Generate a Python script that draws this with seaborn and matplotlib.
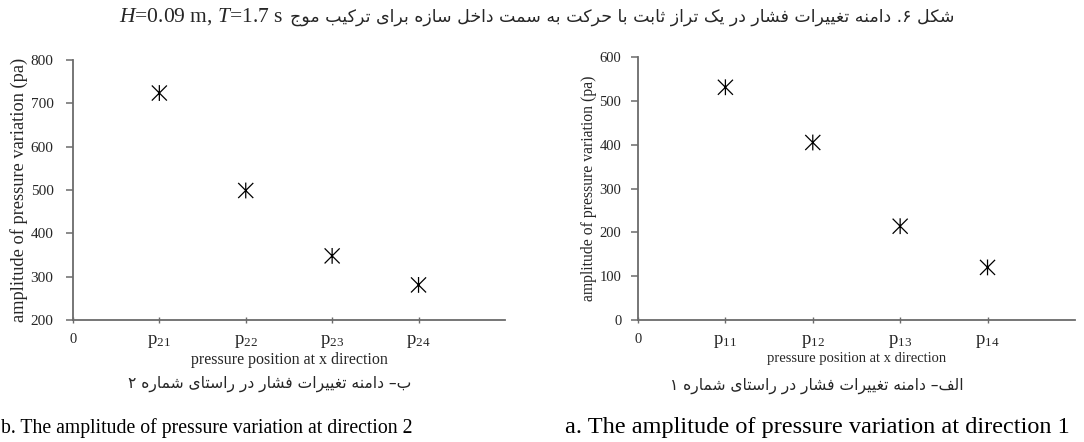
import matplotlib
matplotlib.use("Agg")
import pandas as pd
import seaborn as sns
import matplotlib.pyplot as plt
from matplotlib.path import Path

# data
pos_dir2 = [1, 2, 3, 4]
amp_dir2 = [724, 499, 348, 281]
ticks_dir2 = ["0", r"$\mathrm{p}_{\mathrm{21}}$", r"$\mathrm{p}_{\mathrm{22}}$",
              r"$\mathrm{p}_{\mathrm{23}}$", r"$\mathrm{p}_{\mathrm{24}}$"]

pos_dir1 = [1, 2, 3, 4]
amp_dir1 = [531, 405, 214, 120]
ticks_dir1 = ["0", r"$\mathrm{p}_{\mathrm{11}}$", r"$\mathrm{p}_{\mathrm{12}}$",
              r"$\mathrm{p}_{\mathrm{13}}$", r"$\mathrm{p}_{\mathrm{14}}$"]

title_fa = "شکل ۶. دامنه تغییرات فشار در یک تراز ثابت با حرکت به سمت داخل سازه برای ترکیب موج"
title_en = r"$\mathit{H}$=0.09 m, $\mathit{T}$=1.7 s"
cap_b_fa = "ب– دامنه تغییرات فشار در راستای شماره ۲"
cap_a_fa = "الف– دامنه تغییرات فشار در راستای شماره ۱"
cap_b_en = "b. The amplitude of pressure variation at direction 2"
cap_a_en = "a. The amplitude of pressure variation at direction 1"
ylab = "amplitude of pressure variation (pa)"
xlab = "pressure position at x direction"


# minimal persian shaping, matplotlib draws left to right without shaping
FORMS = {
    "ا": ("\uFE8D", "\uFE8E", None, None),
    "ب": ("\uFE8F", "\uFE90", "\uFE91", "\uFE92"),
    "ت": ("\uFE95", "\uFE96", "\uFE97", "\uFE98"),
    "ث": ("\uFE99", "\uFE9A", "\uFE9B", "\uFE9C"),
    "ج": ("\uFE9D", "\uFE9E", "\uFE9F", "\uFEA0"),
    "ح": ("\uFEA1", "\uFEA2", "\uFEA3", "\uFEA4"),
    "خ": ("\uFEA5", "\uFEA6", "\uFEA7", "\uFEA8"),
    "د": ("\uFEA9", "\uFEAA", None, None),
    "ذ": ("\uFEAB", "\uFEAC", None, None),
    "ر": ("\uFEAD", "\uFEAE", None, None),
    "ز": ("\uFEAF", "\uFEB0", None, None),
    "س": ("\uFEB1", "\uFEB2", "\uFEB3", "\uFEB4"),
    "ش": ("\uFEB5", "\uFEB6", "\uFEB7", "\uFEB8"),
    "غ": ("\uFECD", "\uFECE", "\uFECF", "\uFED0"),
    "ف": ("\uFED1", "\uFED2", "\uFED3", "\uFED4"),
    "ل": ("\uFEDD", "\uFEDE", "\uFEDF", "\uFEE0"),
    "م": ("\uFEE1", "\uFEE2", "\uFEE3", "\uFEE4"),
    "ن": ("\uFEE5", "\uFEE6", "\uFEE7", "\uFEE8"),
    "ه": ("\uFEE9", "\uFEEA", "\uFEEB", "\uFEEC"),
    "و": ("\uFEED", "\uFEEE", None, None),
    "ک": ("\uFB8E", "\uFB8F", "\uFB90", "\uFB91"),
    "ی": ("\uFBFC", "\uFBFD", "\uFBFE", "\uFBFF"),
}


def shape_fa(text):
    out = []
    n = len(text)
    for i, c in enumerate(text):
        if c not in FORMS:
            out.append(c)
            continue
        iso, fin, ini, med = FORMS[c]
        prev = text[i - 1] if i > 0 else ""
        nxt = text[i + 1] if i < n - 1 else ""
        join_prev = prev in FORMS and FORMS[prev][2] is not None
        join_next = ini is not None and nxt in FORMS
        if join_prev and join_next:
            out.append(med)
        elif join_prev:
            out.append(fin)
        elif join_next:
            out.append(ini)
        else:
            out.append(iso)
    return "".join(out)[::-1]


# asterisk marker: an X with a vertical stroke
star = Path([(-1, -1), (1, 1), (-1, 1), (1, -1), (0, -1.05), (0, 1.05)],
            [Path.MOVETO, Path.LINETO, Path.MOVETO, Path.LINETO,
             Path.MOVETO, Path.LINETO])

sns.set_style("ticks")
plt.rcParams["font.family"] = ["Liberation Serif", "DejaVu Sans"]
plt.rcParams["mathtext.fontset"] = "custom"
plt.rcParams["mathtext.rm"] = "Liberation Serif"
plt.rcParams["mathtext.it"] = "Liberation Serif:italic"

ink = "#262626"
axis_col = "#6b6b6b"
fa_font = "DejaVu Sans"

fig = plt.figure(figsize=(10.84, 4.42), dpi=100)
ax_b = fig.add_axes([0.0673, 0.276, 0.3985, 0.588])
ax_a = fig.add_axes([0.5886, 0.276, 0.403, 0.595])

df_b = pd.DataFrame({"pos": pos_dir2, "amp": amp_dir2})
df_a = pd.DataFrame({"pos": pos_dir1, "amp": amp_dir1})

panels = [
    (ax_b, df_b, ticks_dir2, (200, 800), 13.2, 11.5, 9, 11),
    (ax_a, df_a, ticks_dir1, (0, 600), 11.3, 10.5, 7, 10.5),
]
for ax, df, tlabels, ylim, ylab_size, xlab_size, ypad, ytick_size in panels:
    sns.scatterplot(data=df, x="pos", y="amp", ax=ax, marker=star,
                    s=130, facecolor="none", edgecolor="black", linewidth=0.9)
    ax.set_xlim(0, 5)
    ax.set_ylim(*ylim)
    ax.set_xticks(range(0, 5))
    ax.set_xticklabels(tlabels)
    ax.set_yticks(range(ylim[0], ylim[1] + 1, 100))
    sns.despine(ax=ax)
    for s in ["left", "bottom"]:
        ax.spines[s].set_color(axis_col)
        ax.spines[s].set_linewidth(1.3)
    ax.tick_params(axis="y", direction="out", length=5, width=1.1,
                   color=axis_col, labelsize=ytick_size, labelcolor=ink, pad=ypad)
    ax.tick_params(axis="x", direction="inout", length=5, width=1.0,
                   color=axis_col, labelsize=13.5, labelcolor=ink, pad=7)
    ax.get_xticklabels()[0].set_fontsize(10.5)
    ax.set_ylabel(ylab, fontsize=ylab_size, color=ink, labelpad=2)
    ax.set_xlabel(xlab, fontsize=xlab_size, color=ink, labelpad=1)
    ax.set_facecolor("white")

# title
fig.text(290 / 1084, 1 - 17 / 442, shape_fa(title_fa), family=fa_font,
         fontsize=12.5, ha="left", va="center", color=ink)
fig.text(283 / 1084, 1 - 17 / 442, title_en, fontsize=15.5,
         ha="right", va="center", color=ink)

# captions
fig.text(270 / 1084, 1 - 384 / 442, shape_fa(cap_b_fa), family=fa_font,
         fontsize=11.2, ha="center", va="center", color=ink)
fig.text(817 / 1084, 1 - 386 / 442, shape_fa(cap_a_fa), family=fa_font,
         fontsize=11.2, ha="center", va="center", color=ink)
fig.text(1 / 1084, 1 - 428 / 442, cap_b_en, fontsize=14.2,
         ha="left", va="center", color="black")
fig.text(565 / 1084, 1 - 428 / 442, cap_a_en, fontsize=17.5,
         ha="left", va="center", color="black")

fig.savefig("out.png", dpi=100, facecolor="white")
